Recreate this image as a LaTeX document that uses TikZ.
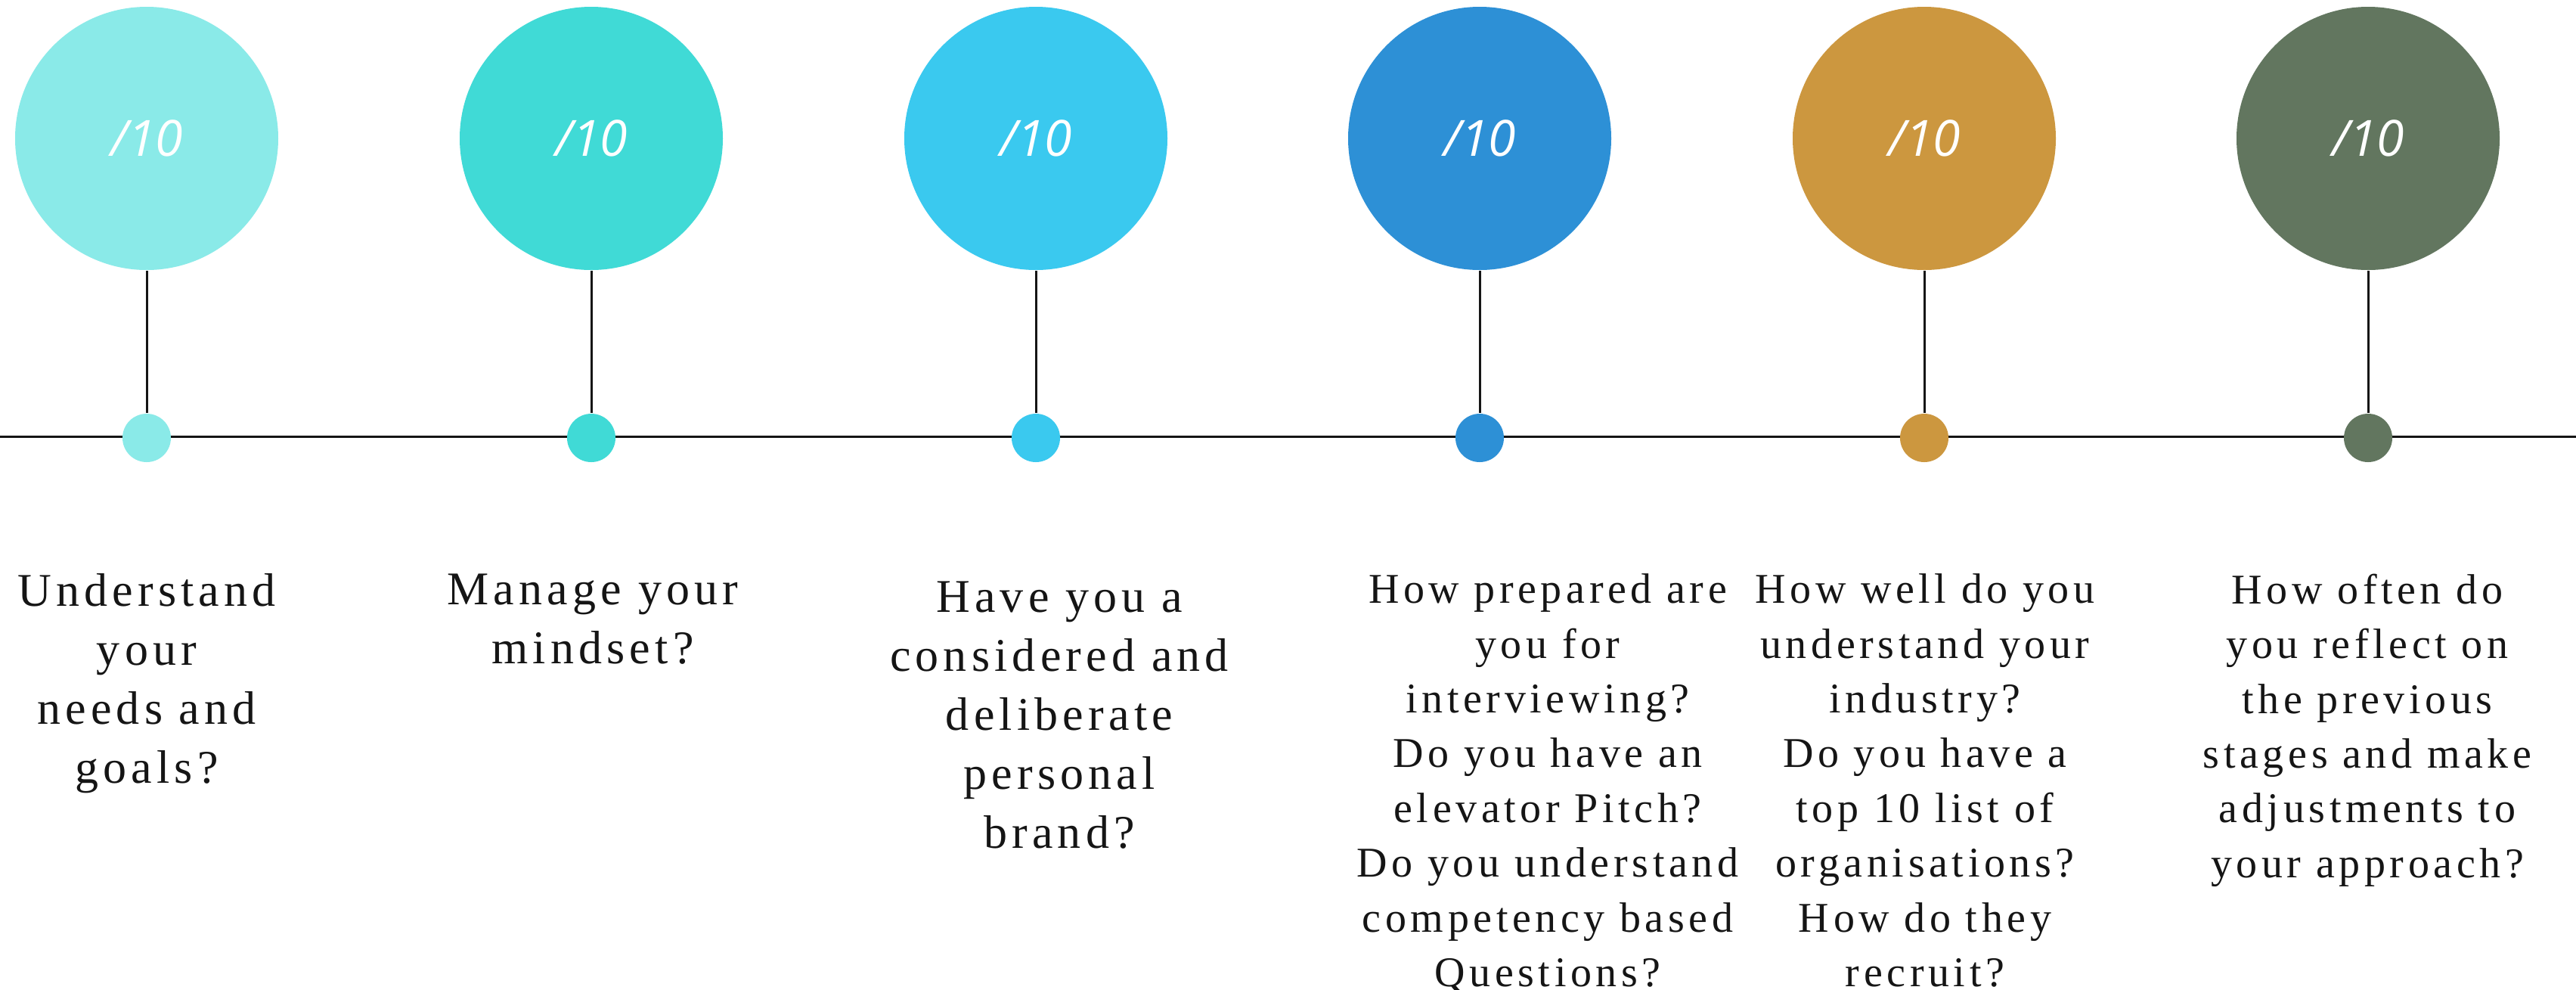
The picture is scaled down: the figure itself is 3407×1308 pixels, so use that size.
\documentclass[tikz,border=0pt]{standalone}
\usepackage{fontspec}
\setmainfont{Liberation Serif}
\newfontfamily\bodyfont[LetterSpace=10]{Liberation Serif}
\newfontfamily\scorefont{Open Sans}
\definecolor{cA}{HTML}{8AEAE8}
\definecolor{cB}{HTML}{40DAD6}
\definecolor{cC}{HTML}{3AC9EF}
\definecolor{cD}{HTML}{2D90D6}
\definecolor{cE}{HTML}{CC973F}
\definecolor{cF}{HTML}{62765F}
\definecolor{ink}{HTML}{151515}
\tikzset{
  bigcirc/.style={circle, inner sep=0pt, minimum size=87pt, text=white,
    font={\scorefont\itshape\fontsize{16.5pt}{20pt}\selectfont}},
  dotnode/.style={circle, inner sep=0pt, minimum size=16pt},
  wire/.style={draw=ink, line width=0.75pt},
  bigtext/.style={anchor=north, inner sep=0pt, align=center, text=ink,
    font={\bodyfont\fontsize{15.5pt}{19.5pt}\selectfont}},
  smalltext/.style={anchor=north, inner sep=0pt, align=center, text=ink,
    font={\bodyfont\fontsize{14pt}{18.1pt}\selectfont}}
}
\begin{document}
\begin{tikzpicture}[x=0.25pt, y=-0.25pt]
\useasboundingbox[fill=white] (0,0) rectangle (3407,1308);
\coordinate (L) at (0,577);
\coordinate (R) at (3407,577);
\draw[wire] (L) -- (R);
% circles
\node[bigcirc, fill=cA] (c1) at (194,183) {/10};
\node[bigcirc, fill=cB] (c2) at (782,183) {/10};
\node[bigcirc, fill=cC] (c3) at (1370,183) {/10};
\node[bigcirc, fill=cD] (c4) at (1957,183) {/10};
\node[bigcirc, fill=cE] (c5) at (2545,183) {/10};
\node[bigcirc, fill=cF] (c6) at (3132,183) {/10};
% dots
\node[dotnode, fill=cA] (d1) at (194,579) {};
\node[dotnode, fill=cB] (d2) at (782,579) {};
\node[dotnode, fill=cC] (d3) at (1370,579) {};
\node[dotnode, fill=cD] (d4) at (1957,579) {};
\node[dotnode, fill=cE] (d5) at (2545,579) {};
\node[dotnode, fill=cF] (d6) at (3132,579) {};
% stems
\foreach \i in {1,...,6} {\draw[wire] (c\i.south) -- (d\i.north);}
% texts
\node[bigtext] (t1) at (194,758) {Understand\\your\\needs and\\goals?};
\node[bigtext] (t2) at (784,758) {Manage your\\mindset?};
\node[bigtext] (t3) at (1401,768) {Have you a\\considered and\\deliberate\\personal\\brand?};
\node[smalltext] (t4) at (2047,758) {How prepared are\\you for\\interviewing?\\Do you have an\\elevator Pitch?\\Do you understand\\competency based\\Questions?};
\node[smalltext] (t5) at (2546,758) {How well do you\\understand your\\industry?\\Do you have a\\top 10 list of\\organisations?\\How do they\\recruit?};
\node[smalltext] (t6) at (3131,758) {How often do\\you reflect on\\the previous\\stages and make\\adjustments to\\your approach?};
\end{tikzpicture}
\end{document}
